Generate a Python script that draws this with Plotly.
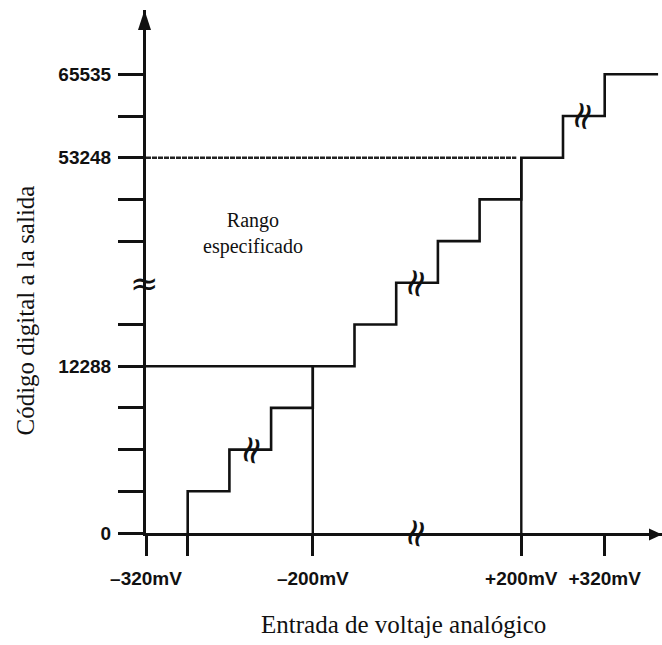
import plotly.graph_objects as go

# ---- data (schematic grid: one unit = one code step / one LSB of input) ----
x_tick_pos = [0, 1, 4, 9, 11]
x_tick_labels = ["–320mV", "", "–200mV", "+200mV", "+320mV"]
y_tick_pos = [0, 1, 2, 3, 4, 5, 7, 8, 9, 10, 11]
y_tick_labels = ["0", "", "", "", "12288", "", "", "", "53248", "", "65535"]

# transfer-function staircase: input position of each transition and code level
step_x = [1, 2, 3, 4, 5, 6, 7, 8, 9, 10, 11, 12.28]
step_code = [0, 1, 2, 3, 4, 5, 6, 7, 8, 9, 10, 11]

# specified range (input -200mV..+200mV -> codes 12288..53248)
range_x = [4, 9]
range_code = [4, 9]

# ellipsis dots beside the code axis
dot_x = -0.91
dot_codes = [10.46, 9.62, 7.17, 6.35, 5.59, 3.12, 2.35, 1.56]

# scale-break markers (x, code)
stair_breaks_x = [2.5, 6.45, 10.45]
stair_breaks_code = [2, 6, 10]
xaxis_break_x = 6.45
yaxis_break_code = 6

# ---- layout geometry ----
W, H = 662, 645
L, R, T, B = 146, 0, 10, 112
UNIT = 41.7
XMAX = (W - L - R) / UNIT
YMAX = (H - T - B) / UNIT

def px_to_paper(px, py):
    return (px - L) / (W - L - R), (H - B - py) / (H - T - B)

BLACK = "#111111"
fig = go.Figure()

# staircase
fig.add_trace(go.Scatter(x=step_x, y=step_code, mode="lines", line_shape="vh",
                         line=dict(color=BLACK, width=2.6), hoverinfo="skip"))
# lower range lines
fig.add_trace(go.Scatter(x=[0, range_x[0]], y=[range_code[0]] * 2, mode="lines",
                         line=dict(color=BLACK, width=2.4), hoverinfo="skip"))
fig.add_trace(go.Scatter(x=[range_x[0]] * 2, y=[0, range_code[0]], mode="lines",
                         line=dict(color=BLACK, width=2.4), hoverinfo="skip"))
# upper range lines
fig.add_trace(go.Scatter(x=[0, range_x[1] - 0.12], y=[range_code[1]] * 2, mode="lines",
                         line=dict(color="#222222", width=2.6, dash="5px,1px"), hoverinfo="skip"))
fig.add_trace(go.Scatter(x=[range_x[1]] * 2, y=[0, range_code[1]], mode="lines",
                         line=dict(color=BLACK, width=2.4), hoverinfo="skip"))
# ellipsis dots
fig.add_trace(go.Scatter(x=[dot_x] * len(dot_codes), y=dot_codes, mode="markers",
                         marker=dict(color=BLACK, size=10), cliponaxis=False, hoverinfo="skip"))

# break symbols
brk_font = dict(family="DejaVu Sans", size=38, color=BLACK)
for bx, by in zip(stair_breaks_x, stair_breaks_code):
    fig.add_annotation(x=bx, y=by, text="≈", showarrow=False, textangle=-75,
                       font=brk_font)
fig.add_annotation(x=xaxis_break_x, y=0, text="≈", showarrow=False, textangle=-75,
                   font=brk_font)
fig.add_annotation(x=0, y=yaxis_break_code, text="≈", showarrow=False, xshift=-2,
                   font=dict(family="DejaVu Sans", size=34, color=BLACK))

# texts
fig.add_annotation(x=2.57, y=7.19, text="Rango<br>especificado", showarrow=False,
                   font=dict(family="Liberation Serif", size=20, color=BLACK))
px_, py_ = px_to_paper(403, 640)
fig.add_annotation(x=px_, y=py_, xref="paper", yref="paper", showarrow=False,
                   text="Entrada de voltaje analógico",
                   font=dict(family="Liberation Serif", size=25, color=BLACK))
px_, py_ = px_to_paper(9, 311)
fig.add_annotation(x=px_, y=py_, xref="paper", yref="paper", showarrow=False,
                   text="Código digital a la salida", textangle=-90,
                   font=dict(family="Liberation Serif", size=25, color=BLACK))

# arrow heads (pixel-sized, anchored at the axis ends)
fig.add_shape(type="path", xref="paper", yref="paper", xsizemode="pixel", ysizemode="pixel",
              xanchor=0, yanchor=1, path="M-8,-20 L5,-20 L-1.5,0 Z",
              fillcolor=BLACK, line=dict(width=0))
fig.add_shape(type="path", xref="paper", yref="paper", xsizemode="pixel", ysizemode="pixel",
              xanchor=1, yanchor=0, path="M-13,4.5 L-13,-7.5 L0,-1.5 Z",
              fillcolor=BLACK, line=dict(width=0))

tickfont = dict(family="Liberation Sans", size=19, color=BLACK, weight="bold")
fig.update_xaxes(range=[0, XMAX], showgrid=False, zeroline=False, showline=True,
                 linecolor=BLACK, linewidth=3, ticks="outside", ticklen=20, tickwidth=2.6,
                 tickcolor=BLACK, tickvals=x_tick_pos, ticktext=x_tick_labels,
                 tickfont=tickfont, ticklabelstandoff=6, fixedrange=True)
fig.update_yaxes(range=[0, YMAX], showgrid=False, zeroline=False, showline=True,
                 linecolor=BLACK, linewidth=3, ticks="outside", ticklen=25, tickwidth=2.6,
                 tickcolor=BLACK, tickvals=y_tick_pos, ticktext=y_tick_labels,
                 tickfont=tickfont, ticklabelstandoff=3, fixedrange=True)
fig.update_layout(width=W, height=H, margin=dict(l=L, r=R, t=T, b=B),
                  plot_bgcolor="white", paper_bgcolor="white", showlegend=False)
fig.write_html("out.html")
